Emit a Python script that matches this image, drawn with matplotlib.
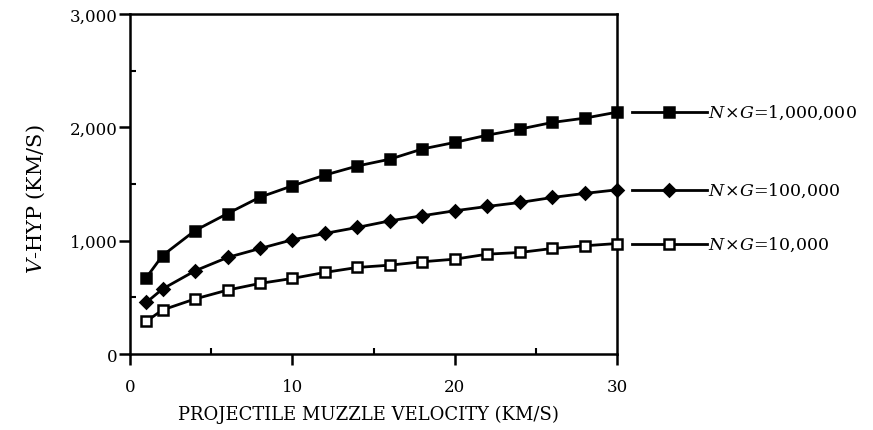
import numpy as np
import matplotlib
matplotlib.use("Agg")
import matplotlib.pyplot as plt
from matplotlib.ticker import MultipleLocator, FuncFormatter

# ---- data ----
velocity = [1, 2, 4, 6, 8, 10, 12, 14, 16, 18, 20, 22, 24, 26, 28, 30]
vhyp_1e6 = [675, 870, 1090, 1240, 1385, 1485, 1580, 1660, 1720, 1810, 1868, 1932, 1985, 2044, 2082, 2135]
vhyp_1e5 = [456, 575, 735, 853, 932, 1009, 1065, 1118, 1176, 1221, 1265, 1303, 1338, 1382, 1418, 1450]
vhyp_1e4 = [290, 390, 487, 565, 624, 668, 721, 765, 785, 815, 838, 882, 897, 932, 956, 976]
series_labels = ["1,000,000", "100,000", "10,000"]

plt.rcParams["font.family"] = ["DejaVu Serif"]
plt.rcParams["mathtext.fontset"] = "dejavuserif"

fig = plt.figure(figsize=(8.73, 4.31), dpi=100)
ax = fig.add_axes([0.149, 0.176, 0.558, 0.789])

styles = [
    dict(marker="s", ms=7.5, mfc="black"),
    dict(marker="D", ms=6.5, mfc="black"),
    dict(marker="s", ms=7, mfc="white"),
]
all_series = [vhyp_1e6, vhyp_1e5, vhyp_1e4]

for vals, st, lab in zip(all_series, styles, series_labels):
    ax.plot(velocity, vals, color="black", lw=2, mec="black", mew=1.8,
            clip_on=False, zorder=3, **st)
    # legend entry drawn beside the last point, outside the axes
    y_end = vals[-1]
    ax.plot([30.9, 35.5], [y_end, y_end], color="black", lw=2,
            clip_on=False, zorder=3)
    ax.plot([33.2], [y_end], color="black", mec="black", mew=1.8,
            clip_on=False, zorder=3, **st)
    ax.text(35.6, y_end, r"$N\!\times\!G$" + "=" + lab, fontsize=12.5,
            va="center", ha="left")

ax.set_xlim(0, 30)
ax.set_ylim(0, 3000)
ax.xaxis.set_major_locator(MultipleLocator(10))
ax.xaxis.set_minor_locator(MultipleLocator(5))
ax.yaxis.set_major_locator(MultipleLocator(1000))
ax.yaxis.set_minor_locator(MultipleLocator(500))
ax.yaxis.set_major_formatter(FuncFormatter(lambda v, p: f"{int(v):,}"))

for s in ax.spines.values():
    s.set_linewidth(1.8)
ax.tick_params(which="major", direction="out", length=8, width=1.8,
               labelsize=12)
ax.tick_params(axis="y", which="major", pad=1)
ax.tick_params(axis="x", which="major", pad=9)
ax.tick_params(which="minor", direction="in", length=4, width=1.5)

ax.set_xlabel("PROJECTILE MUZZLE VELOCITY (KM/S)", fontsize=13)
ax.xaxis.set_label_coords(0.489, -0.15)
ax.set_ylabel(r"$V$-HYP (KM/S)", fontsize=15)
ax.yaxis.set_label_coords(-0.17, 0.46)

fig.savefig("out.png", dpi=100)
